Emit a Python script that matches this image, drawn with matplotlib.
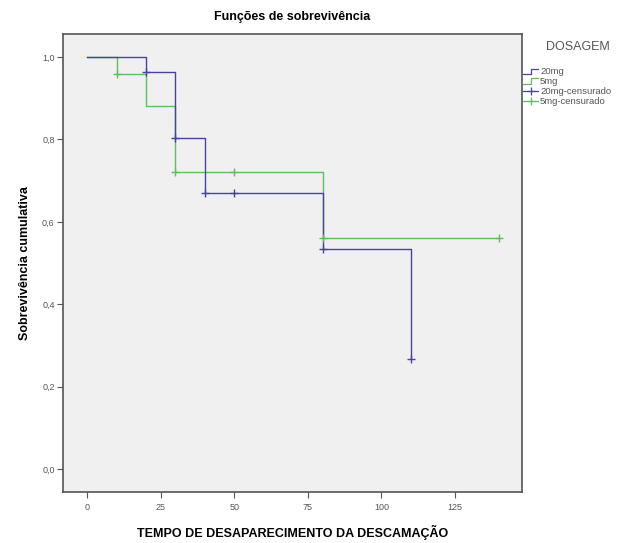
import numpy as np
import matplotlib
matplotlib.use("Agg")
import matplotlib.pyplot as plt
from matplotlib.lines import Line2D

plt.rcParams["font.family"] = ["Liberation Sans", "DejaVu Sans"]

# Kaplan-Meier estimates per dose group
times_20mg = [0, 20, 30, 40, 80, 110]
surv_20mg = [1.0, 0.964, 0.803, 0.669, 0.535, 0.268]
censor_20mg = [20, 30, 40, 50, 80, 110]

times_5mg = [0, 10, 20, 30, 80, 140]
surv_5mg = [1.0, 0.96, 0.88, 0.72, 0.56, 0.56]
censor_5mg = [10, 30, 50, 80, 140]

group_labels = ["20mg", "5mg", "20mg-censurado", "5mg-censurado"]
x_ticks = [0, 25, 50, 75, 100, 125]
y_ticks = [0.0, 0.2, 0.4, 0.6, 0.8, 1.0]

c20 = "#45459e"
c5 = "#5fbf5f"
grey = "#555555"


def surv_at(t, times, surv):
    idx = np.searchsorted(times, t, side="right") - 1
    return np.asarray(surv)[idx]


fig = plt.figure(figsize=(6.43, 5.43), dpi=100)
ax = fig.add_axes([63 / 643, 1 - 492 / 543, (522 - 63) / 643, (492 - 34) / 543])
ax.set_facecolor("#f0f0f0")

ax.step(times_5mg, surv_5mg, where="post", color=c5, lw=1.0)
ax.step(times_20mg, surv_20mg, where="post", color=c20, lw=1.0)
ax.plot(censor_5mg, surv_at(censor_5mg, times_5mg, surv_5mg), ls="none",
        marker="+", ms=5.5, mew=1.0, color=c5)
ax.plot(censor_20mg, surv_at(censor_20mg, times_20mg, surv_20mg), ls="none",
        marker="+", ms=5.5, mew=1.0, color=c20)

ax.set_xlim(-8.2, 147.8)
ax.set_ylim(-0.056, 1.056)
ax.set_xticks(x_ticks)
ax.set_xticklabels([str(v) for v in x_ticks])
ax.set_yticks(y_ticks)
ax.set_yticklabels([f"{v:.1f}".replace(".", ",") for v in y_ticks])
ax.tick_params(labelsize=6.5, colors=grey, length=4, width=0.8)
ax.tick_params(axis="x", pad=4)
ax.tick_params(axis="y", pad=2)
for s in ax.spines.values():
    s.set_color(grey)
    s.set_linewidth(1.2)

ax.set_title("Funções de sobrevivência", fontsize=9, fontweight="bold", pad=10)
ax.set_xlabel("TEMPO DE DESAPARECIMENTO DA DESCAMAÇÃO", fontsize=9,
              fontweight="bold", labelpad=9)
ax.set_ylabel("Sobrevivência cumulativa", fontsize=9, fontweight="bold",
              labelpad=8)

# Legend, placed to the right of the plot frame
fig.text(546 / 643, 1 - 47 / 543, "DOSAGEM", fontsize=9, color=grey,
         ha="left", va="center")

legend_rows = [71, 81, 91, 101]
x0, xm, x1 = 523 / 643, 531 / 643, 538 / 643
dy = 2.5 / 543
for label, row, color, censored in zip(group_labels, legend_rows,
                                       [c20, c5, c20, c5],
                                       [False, False, True, True]):
    yc = 1 - row / 543
    if censored:
        fig.add_artist(Line2D([x0, x1], [yc, yc], color=color, lw=0.9))
        fig.add_artist(Line2D([(x0 + x1) / 2], [yc], color=color, marker="+",
                              ms=6, mew=0.9, ls="none"))
    else:
        fig.add_artist(Line2D([x0, xm, xm, x1],
                              [yc - dy, yc - dy, yc + dy, yc + dy],
                              color=color, lw=0.9))
    fig.text(540 / 643, yc, label, fontsize=6.8, color=grey,
             ha="left", va="center")

fig.savefig("out.png", dpi=100, facecolor="white")
